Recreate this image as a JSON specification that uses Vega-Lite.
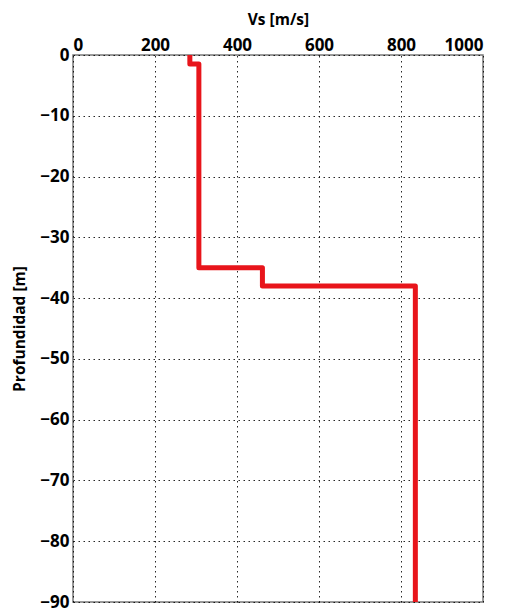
{
  "$schema": "https://vega.github.io/schema/vega-lite/v6.json",
  "autosize": {"type": "none"},
  "width": 410,
  "height": 547,
  "padding": {"left": 73, "top": 55, "right": 28, "bottom": 12},
  "background": "white",
  "config": {
    "view": {"stroke": "#777777", "strokeWidth": 1.5},
    "font": "Open Sans",
    "axis": {
      "labelFont": "Open Sans",
      "labelFontWeight": "bold",
      "labelFontSize": 17,
      "labelColor": "#000000",
      "titleFont": "Open Sans",
      "titleFontWeight": "bold",
      "titleFontSize": 15.5,
      "titleColor": "#000000",
      "domain": false,
      "ticks": false,
      "grid": true,
      "gridColor": "#000000",
      "gridDash": [1.5, 3.5],
      "gridWidth": 1,
      "gridOpacity": 0.85
    }
  },
  "data": {
    "values": [
      {"i": 0, "vs": 285, "depth": 0},
      {"i": 1, "vs": 285, "depth": -1.5},
      {"i": 2, "vs": 307, "depth": -1.5},
      {"i": 3, "vs": 307, "depth": -35},
      {"i": 4, "vs": 462, "depth": -35},
      {"i": 5, "vs": 462, "depth": -38},
      {"i": 6, "vs": 835, "depth": -38},
      {"i": 7, "vs": 835, "depth": -90}
    ]
  },
  "mark": {"type": "line", "color": "#E8151B", "strokeWidth": 5, "strokeJoin": "round", "strokeCap": "butt", "clip": true},
  "encoding": {
    "x": {
      "field": "vs",
      "type": "quantitative",
      "scale": {"domain": [0, 1000], "nice": false},
      "axis": {"orient": "top", "title": "Vs [m/s]", "format": "d", "values": [0, 200, 400, 600, 800, 1000], "labelPadding": 1, "titlePadding": 9}
    },
    "y": {
      "field": "depth",
      "type": "quantitative",
      "scale": {"domain": [-90, 0], "nice": false},
      "axis": {"title": "Profundidad [m]", "format": "d", "values": [0, -10, -20, -30, -40, -50, -60, -70, -80, -90], "labelPadding": 4, "titlePadding": 12}
    },
    "order": {"field": "i", "type": "quantitative"}
  }
}
